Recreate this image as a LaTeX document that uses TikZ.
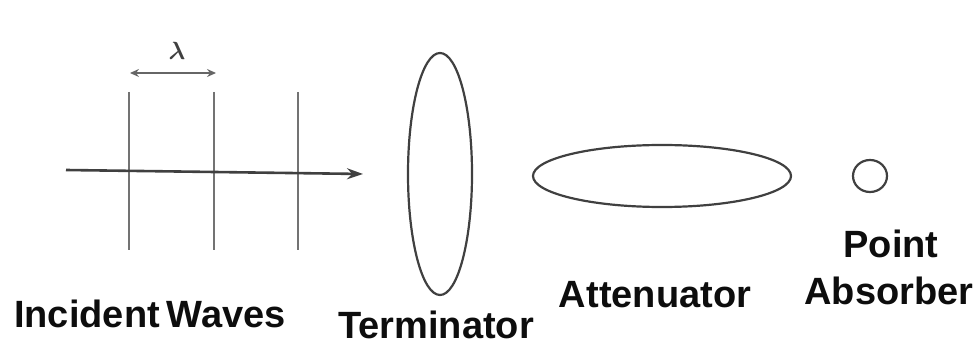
\documentclass[tikz,border=0pt]{standalone}
\usepackage{amsmath}
\usepackage{fontspec}
\setmainfont{Liberation Sans}
\usetikzlibrary{arrows.meta,shapes.geometric}
\begin{document}
\begin{tikzpicture}[x=1pt,y=-1pt,
  lbl/.style={inner sep=0pt,anchor=base,font=\fontsize{38}{40}\selectfont\bfseries,text=black!95},
  wave/.style={draw=black!55,line width=1.2pt},
  body/.style={draw=black!75,line width=2.2pt,shape=ellipse,inner sep=0pt},
  dimarrow/.style={draw=black!60,line width=1.5pt,{Stealth[length=9pt,width=8pt,inset=3pt]}-{Stealth[length=9pt,width=8pt,inset=3pt]}},
  flow/.style={draw=black!75,line width=2.6pt,-{Stealth[length=16pt,width=11pt]}}]
\useasboundingbox (0,0) rectangle (979,347);
% wave crests
\coordinate (w1t) at (129,92); \coordinate (w1b) at (129,250);
\coordinate (w2t) at (214,92); \coordinate (w2b) at (214,250);
\coordinate (w3t) at (298,92); \coordinate (w3b) at (298,250);
\draw[wave] (w1t) -- (w1b);
\draw[wave] (w2t) -- (w2b);
\draw[wave] (w3t) -- (w3b);
% lambda
\coordinate (la) at (130,73); \coordinate (lb) at (216,73);
\draw[dimarrow] (la) -- (lb);
\node[inner sep=0pt,font=\fontsize{29}{30}\selectfont,text=black!75] (lam) at (177,51) {$\boldsymbol{\lambda}$};
% incident arrow
\coordinate (as) at (66,170); \coordinate (ae) at (363,174);
\draw[flow] (as) -- (ae);
% bodies
\node[body,minimum width=64pt,minimum height=242pt] (term) at (440,174) {};
\node[body,minimum width=258pt,minimum height=62pt] (att) at (662,176) {};
\node[body,minimum width=34pt,minimum height=32pt] (pa) at (870,176) {};
% labels
\node[lbl,anchor=base west] (tinc) at (14,327) {Incident\hspace{-0.1em} Waves};
\node[lbl] (tterm) at (436,338) {Terminator};
\node[lbl] (tatt) at (655,307) {Attenuator};
\node[lbl] (tpt) at (891,258) {Point};
\node[lbl] (tabs) at (889,304) {Absorber};
\end{tikzpicture}
\end{document}
